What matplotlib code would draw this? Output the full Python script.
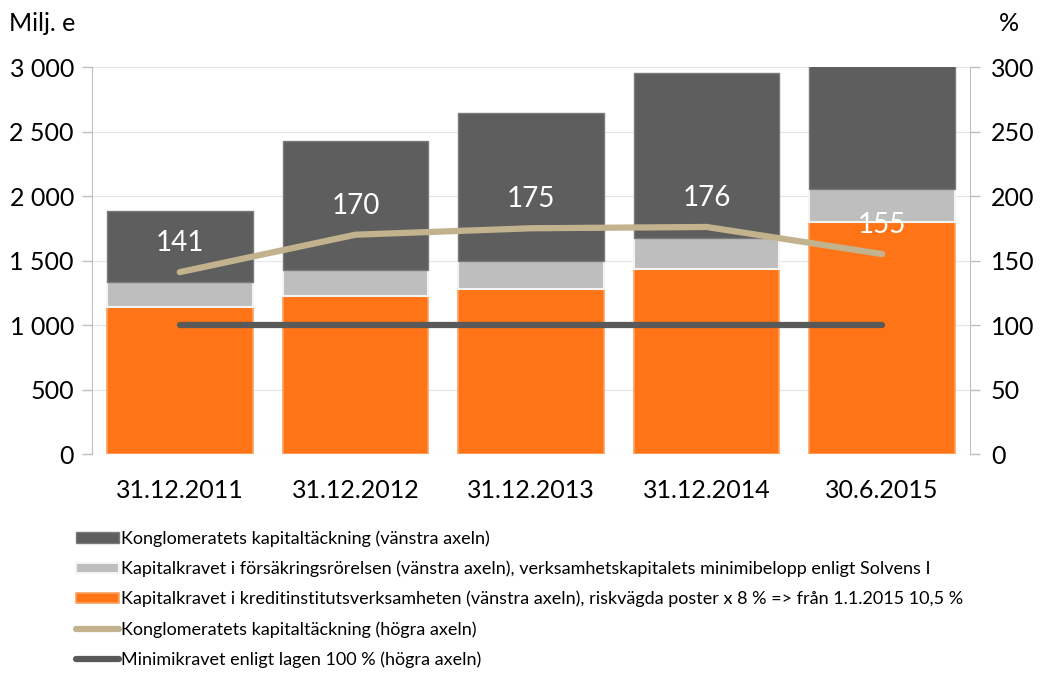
import numpy as np
import matplotlib.pyplot as plt
from matplotlib.ticker import FuncFormatter

# data
periods = ['31.12.2011', '31.12.2012', '31.12.2013', '31.12.2014', '30.6.2015']
kredit = [1140, 1225, 1280, 1435, 1800]      # orange, left axis
forsakring = [193, 200, 215, 240, 255]       # light grey, left axis
konglo = [551, 1000, 1148, 1278, 1000]       # dark grey, left axis
tackning_pct = [141, 170, 175, 176, 155]     # right axis
minimikrav = [100, 100, 100, 100, 100]       # right axis

labels = ['Konglomeratets kapitaltäckning (vänstra axeln)',
          'Kapitalkravet i försäkringsrörelsen (vänstra axeln), verksamhetskapitalets minimibelopp enligt Solvens I',
          'Kapitalkravet i kreditinstitutsverksamheten (vänstra axeln), riskvägda poster x 8 % => från 1.1.2015 10,5 %',
          'Konglomeratets kapitaltäckning (högra axeln)',
          'Minimikravet enligt lagen 100 % (högra axeln)']

plt.rcParams['font.family'] = ['Lato', 'DejaVu Sans']

fig = plt.figure(figsize=(10.43, 6.81), dpi=100)
ax = fig.add_axes([0.0882, 0.3333, 0.8418, 0.5683])
ax2 = ax.twinx()

x = np.arange(len(periods))
w = 0.83
orange = '#FF7416'
lgrey = '#BEBEBE'
dgrey = '#5E5E5E'

b3 = ax.bar(x, kredit, w, color=orange, edgecolor='#F9A25F', linewidth=1.2, zorder=2)
b2 = ax.bar(x, forsakring, w, bottom=kredit, color=lgrey, edgecolor='#F4F4F4', linewidth=1.5, zorder=2)
bot = np.array(kredit) + np.array(forsakring)
b1 = ax.bar(x, konglo, w, bottom=bot, color=dgrey, edgecolor='#7A7A7A', linewidth=1.0, zorder=2)

ax.set_xlim(-0.5, len(periods) - 0.5)
ax.set_ylim(0, 3000)
ax.set_yticks(np.arange(0, 3001, 500))
ax.yaxis.set_major_formatter(FuncFormatter(lambda v, p: f'{int(v):,}'.replace(',', ' ')))
ax.grid(axis='y', color='#E6E6E6', linewidth=0.8, zorder=0)
ax.set_axisbelow(True)
ax.set_xticks(x)
ax.set_xticklabels(periods)

ax2.set_ylim(0, 300)
ax2.set_yticks(np.arange(0, 301, 50))
l1, = ax2.plot(x, tackning_pct, color='#C2B38E', linewidth=4.5, solid_capstyle='round', zorder=3)
l2, = ax2.plot(x, minimikrav, color='#595959', linewidth=4.5, solid_capstyle='round', zorder=3)
for xi, v in zip(x, tackning_pct):
    ax2.annotate(str(v), (xi, v), xytext=(0, 21), textcoords='offset points',
                 ha='center', va='center', color='white', fontsize=20)

for a in (ax, ax2):
    for s in ('top', 'bottom'):
        a.spines[s].set_visible(False)
    for s in ('left', 'right'):
        a.spines[s].set_color('#BFBFBF')
    a.tick_params(axis='y', labelsize=18, color='#BFBFBF', length=7, width=1)
ax.spines['right'].set_visible(False)
ax2.spines['left'].set_visible(False)
ax.tick_params(axis='x', length=0, labelsize=18, pad=18)
ax.tick_params(axis='y', pad=6)
ax2.tick_params(axis='y', pad=8)

fig.text(0.009, 0.965, 'Milj. e', fontsize=18, ha='left', va='center')
fig.text(0.958, 0.965, '%', fontsize=18, ha='left', va='center')

fig.legend([b1, b2, b3, l1, l2], labels, loc='upper left', bbox_to_anchor=(0.066, 0.232),
           frameon=False, fontsize=13, handlelength=2.4, handleheight=0.5,
           handletextpad=0.1, labelspacing=0.76, borderaxespad=0)

fig.savefig('out.png', dpi=100)
